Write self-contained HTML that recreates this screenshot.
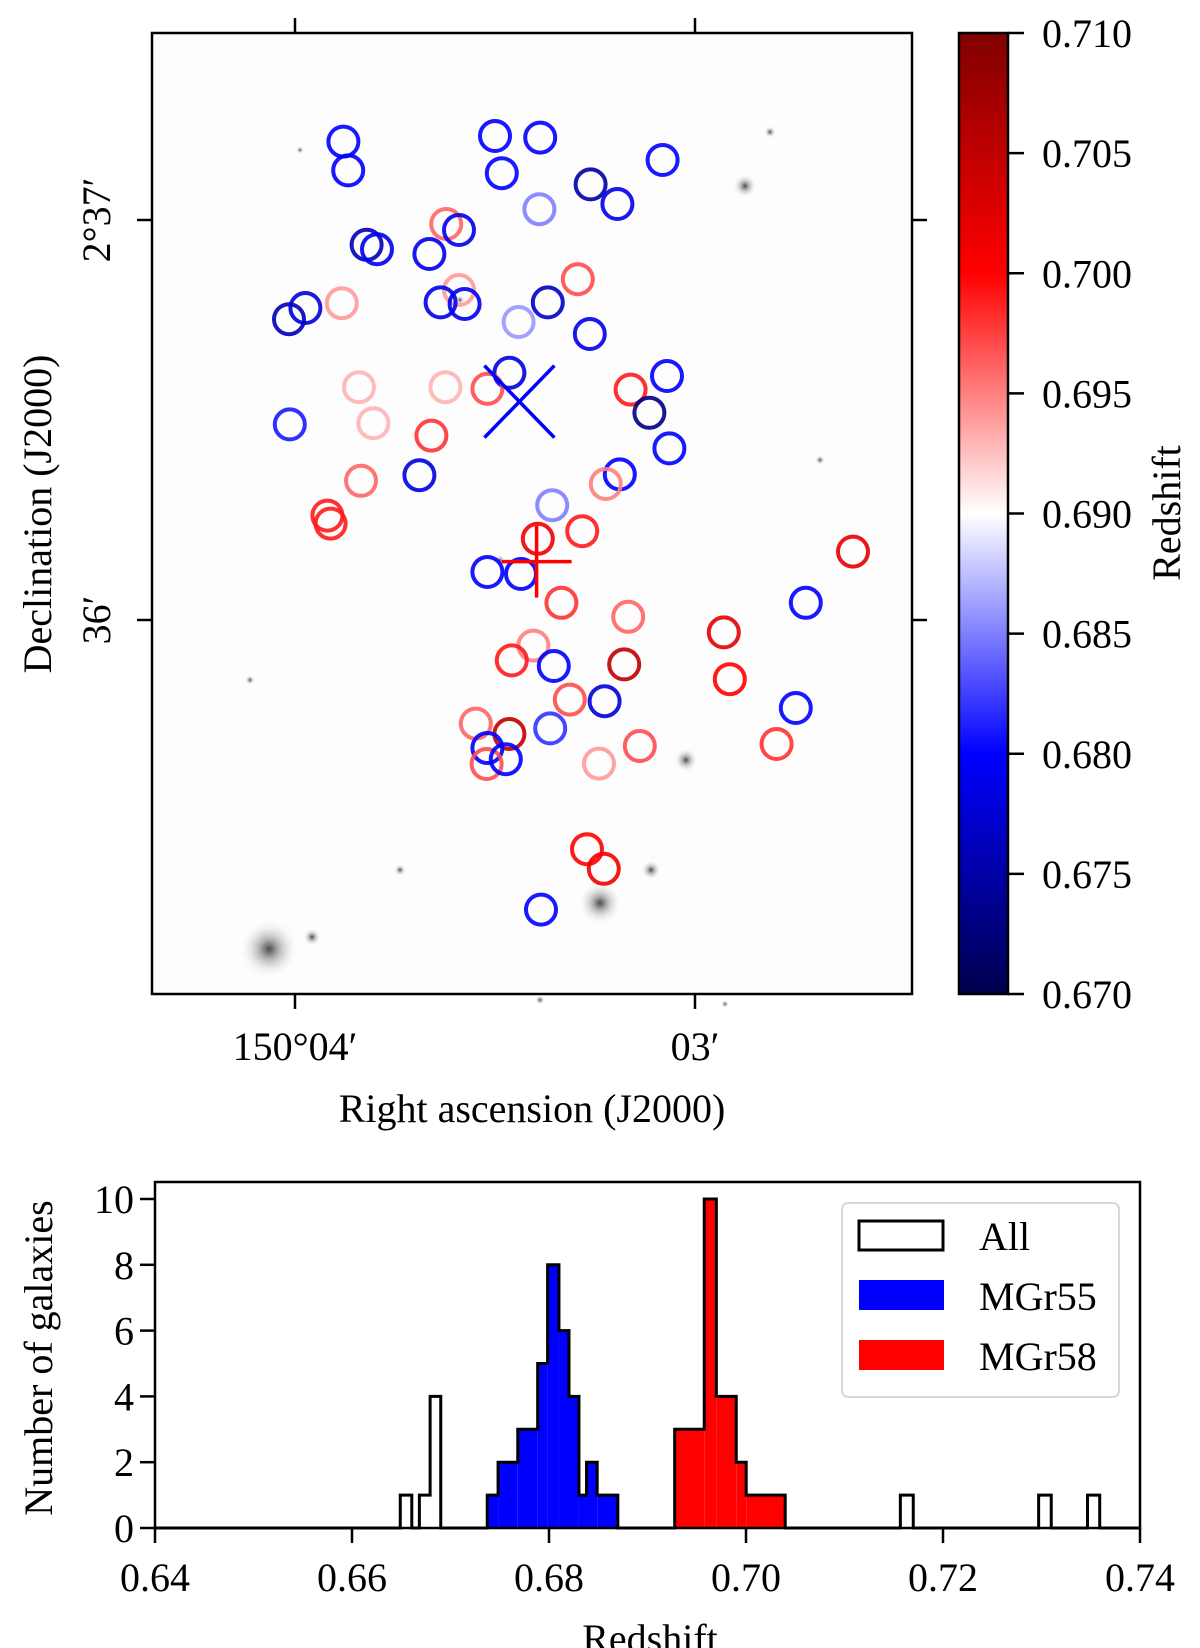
<!DOCTYPE html>
<html><head><meta charset="utf-8">
<style>
html,body{margin:0;padding:0;background:#fff;}
svg{display:block;font-family:"Liberation Serif","DejaVu Serif",serif;}
</style></head>
<body>
<svg id="fig" width="1200" height="1648" viewBox="0 0 1200 1648" xmlns="http://www.w3.org/2000/svg">
<defs>
<linearGradient id="cbar" x1="0" y1="1" x2="0" y2="0">
<stop offset="0" stop-color="rgb(0,0,77)"/>
<stop offset="0.25" stop-color="rgb(0,0,255)"/>
<stop offset="0.5" stop-color="rgb(255,255,255)"/>
<stop offset="0.75" stop-color="rgb(255,0,0)"/>
<stop offset="1" stop-color="rgb(128,0,0)"/>
</linearGradient>
<radialGradient id="glow"><stop offset="0" stop-color="#222"/><stop offset="0.3" stop-color="#999"/><stop offset="1" stop-color="#fff" stop-opacity="0"/></radialGradient>
</defs>
<g id="sky"></g>
<g id="hist"></g>
</svg>
<script>
// ---------- Sky map data (RA arcmin past 150°, Dec arcmin past 2°, redshift) ----------
const galRA = [3.879,3.867,3.500,3.387,3.483,3.081,3.261,3.194,3.389,3.622,3.590,3.821,3.795,3.664,3.293,3.883,3.590,3.636,3.576,3.368,4.015,3.974,3.441,3.263,3.464,3.070,3.840,3.624,3.519,3.161,3.114,4.013,3.804,3.659,3.064,3.689,3.835,3.188,3.223,3.357,3.919,3.911,3.282,3.393,2.605,3.519,3.435,3.334,2.723,3.167,2.928,3.404,3.458,3.353,3.177,2.913,3.313,3.226,2.748,3.548,3.464,3.362,3.519,3.138,2.796,3.521,3.473,3.240,3.270,3.228,3.385];
const galDec = [37.196,37.124,37.210,37.206,37.117,37.150,37.089,37.040,37.027,36.990,36.975,36.938,36.927,36.915,36.852,36.792,36.825,36.794,36.790,36.794,36.752,36.780,36.745,36.715,36.618,36.610,36.582,36.582,36.578,36.576,36.518,36.489,36.492,36.461,36.429,36.362,36.348,36.364,36.340,36.287,36.261,36.241,36.222,36.203,36.171,36.120,36.115,36.043,36.043,36.008,35.969,35.936,35.899,35.885,35.889,35.852,35.801,35.797,35.780,35.741,35.715,35.729,35.680,35.685,35.690,35.640,35.652,35.641,35.427,35.378,35.276];
const galZ = [0.680,0.680,0.680,0.680,0.680,0.680,0.675,0.679,0.685,0.696,0.679,0.676,0.679,0.679,0.697,0.694,0.694,0.679,0.679,0.677,0.676,0.678,0.686,0.679,0.678,0.680,0.693,0.693,0.697,0.699,0.673,0.681,0.693,0.698,0.680,0.678,0.696,0.680,0.695,0.685,0.699,0.699,0.699,0.701,0.702,0.680,0.680,0.698,0.680,0.696,0.702,0.695,0.699,0.680,0.705,0.700,0.697,0.678,0.680,0.696,0.705,0.682,0.680,0.697,0.698,0.697,0.680,0.694,0.700,0.701,0.680];
const centreBlue = [3.439, 36.546];
const centreRed = [3.396, 36.146];
const raTicks = [4, 3];
const raTickLabels = ["150°04′", "03′"];
const decTicks = [37, 36];
const decTickLabels = ["2°37′", "36′"];
const cbTicks = [0.670,0.675,0.680,0.685,0.690,0.695,0.700,0.705,0.710];

// ---------- Histogram data ----------
const blueEdges = [0.67373,0.67483,0.67683,0.67885,0.67986,0.68101,0.68203,0.68304,0.68381,0.68489,0.68699];
const blueCounts = [1,2,3,5,8,6,4,1,2,1];
const redEdges = [0.69276,0.69576,0.69699,0.69901,0.70002,0.70398];
const redCounts = [3,10,4,2,1];
const otherLo = [0.66490,0.66684,0.66793,0.71567,0.72971,0.73467];
const otherHi = [0.66607,0.66793,0.66901,0.71698,0.73099,0.73591];
const otherN = [1,1,4,1,1,1];
const histXTicks = [0.64,0.66,0.68,0.70,0.72,0.74];
const histXTickLabels = ["0.64","0.66","0.68","0.70","0.72","0.74"];
const histYTicks = [0,2,4,6,8,10];

const NS="http://www.w3.org/2000/svg";
function mk(tag, attrs, parent){const e=document.createElementNS(NS,tag);for(const k in attrs)e.setAttribute(k,attrs[k]);parent.appendChild(e);return e;}

function seismic(z){
  let t=(z-0.670)/0.040; t=Math.max(0,Math.min(1,t));
  const st=[[0,0,0,77],[0.25,0,0,255],[0.5,255,255,255],[0.75,255,0,0],[1,128,0,0]];
  for(let i=0;i<4;i++){const a=st[i],b=st[i+1];if(t<=b[0]){const f=(t-a[0])/(b[0]-a[0]);return `rgb(${Math.round(a[1]+f*(b[1]-a[1]))},${Math.round(a[2]+f*(b[2]-a[2]))},${Math.round(a[3]+f*(b[3]-a[3]))})`;}}
  return "rgb(128,0,0)";
}

// ---------- Sky panel ----------
const sky=document.getElementById('sky');
const AX={l:152,r:912,t:33,b:994};
const sx = ra => 295 - (ra-4)*400;
const sy = dec => 620 - (dec-36)*400;

const bg=mk('rect',{x:AX.l,y:AX.t,width:AX.r-AX.l,height:AX.b-AX.t,fill:'#fdfdfd'},sky);


const deco=[[269,949,30],[312,937,9],[745,186,12],[600,903,22],[651,870,10],[686,760,12],[770,132,6],[725,1004,4],[300,150,4],[460,300,5],[250,680,5],[400,870,6],[500,560,5],[820,460,5],[540,1000,5]];
deco.forEach(d=>{const c=mk('circle',{cx:d[0],cy:d[1],r:d[2],fill:'url(#glow)',opacity:0.8},sky);

});

const circ=mk('g',{},sky);


for(let i=0;i<galRA.length;i++){
  const c=mk('circle',{cx:sx(galRA[i]),cy:sy(galDec[i]),r:15,fill:'none',stroke:seismic(galZ[i]),'stroke-width':4,'stroke-opacity':0.9},circ);
  
  
}
{const cx=sx(centreBlue[0]),cy=sy(centreBlue[1]);
const g=mk('g',{stroke:'#0000ff','stroke-width':3.5},sky);


mk('line',{x1:cx-35,y1:cy-36,x2:cx+35,y2:cy+36},g);
mk('line',{x1:cx-35,y1:cy+36,x2:cx+35,y2:cy-36},g);}
{const cx=sx(centreRed[0]),cy=sy(centreRed[1]);
const g=mk('g',{stroke:'#ff0000','stroke-width':3.5},sky);


mk('line',{x1:cx-35,y1:cy,x2:cx+35,y2:cy},g);
mk('line',{x1:cx,y1:cy-36,x2:cx,y2:cy+36},g);}

const frame=mk('rect',{x:AX.l,y:AX.t,width:AX.r-AX.l,height:AX.b-AX.t,fill:'none',stroke:'#000','stroke-width':2.5},sky);


raTicks.forEach((v,i)=>{const x=sx(v);
  mk('line',{x1:x,y1:AX.t,x2:x,y2:AX.t-15,stroke:'#000','stroke-width':2.5},sky);
  mk('line',{x1:x,y1:AX.b,x2:x,y2:AX.b+15,stroke:'#000','stroke-width':2.5},sky);
  const t=mk('text',{x:x,y:1060,'font-size':40,'text-anchor':'middle'},sky);t.textContent=raTickLabels[i];
  
  });
decTicks.forEach((v,i)=>{const y=sy(v);
  mk('line',{x1:AX.l,y1:y,x2:AX.l-15,y2:y,stroke:'#000','stroke-width':2.5},sky);
  mk('line',{x1:AX.r,y1:y,x2:AX.r+15,y2:y,stroke:'#000','stroke-width':2.5},sky);
  const t=mk('text',{x:0,y:0,'font-size':40,'text-anchor':'middle',transform:`translate(110,${y}) rotate(-90)`},sky);t.textContent=decTickLabels[i];
  
  });
{const t=mk('text',{x:532,y:1122,'font-size':40,'text-anchor':'middle'},sky);t.textContent='Right ascension (J2000)';

}
{const t=mk('text',{x:0,y:0,'font-size':40,'text-anchor':'middle',transform:'translate(51,514) rotate(-90)'},sky);t.textContent='Declination (J2000)';

}

const CB={l:959,r:1008,t:33,b:994};
const cy = z => CB.b - (z-0.670)/0.040*(CB.b-CB.t);
{const r=mk('rect',{x:CB.l,y:CB.t,width:CB.r-CB.l,height:CB.b-CB.t,fill:'url(#cbar)',stroke:'#000','stroke-width':2.5},sky);

}
cbTicks.forEach(v=>{const y=cy(v);
  mk('line',{x1:CB.r,y1:y,x2:CB.r+16,y2:y,stroke:'#000','stroke-width':2.5},sky);
  const t=mk('text',{x:1042,y:y+14,'font-size':40},sky);t.textContent=v.toFixed(3);
  
  });
{const t=mk('text',{x:0,y:0,'font-size':40,'text-anchor':'middle',transform:'translate(1180,513) rotate(-90)'},sky);t.textContent='Redshift';

}

// ---------- Histogram ----------
const hist=document.getElementById('hist');
const HA={l:155,r:1140,t:1182,b:1528};
const hx = z => HA.l + (z-0.64)/0.10*(HA.r-HA.l);
const hy = n => HA.b - n*32.9;

function fillBars(edges,counts,color,name){
  for(let i=0;i<counts.length;i++){
    const r=mk('rect',{x:hx(edges[i]),y:hy(counts[i]),width:hx(edges[i+1])-hx(edges[i]),height:HA.b-hy(counts[i]),fill:color},hist);
    
    
  }
}
fillBars(blueEdges,blueCounts,'#0000ff','mgr55-bar');
fillBars(redEdges,redCounts,'#ff0000','mgr58-bar');

const bins=[];
for(let i=0;i<blueCounts.length;i++)bins.push([blueEdges[i],blueEdges[i+1],blueCounts[i]]);
for(let i=0;i<redCounts.length;i++)bins.push([redEdges[i],redEdges[i+1],redCounts[i]]);
for(let i=0;i<otherN.length;i++)bins.push([otherLo[i],otherHi[i],otherN[i]]);
bins.sort((a,b)=>a[0]-b[0]);
let d=`M${hx(0.64)},${hy(0)}`; let prevHi=0.64;
bins.forEach(b=>{
  if(Math.abs(b[0]-prevHi)>1e-6){d+=` L${hx(prevHi)},${hy(0)} L${hx(b[0])},${hy(0)}`;}
  d+=` L${hx(b[0])},${hy(b[2])} L${hx(b[1])},${hy(b[2])}`; prevHi=b[1];
});
d+=` L${hx(prevHi)},${hy(0)} L${hx(0.74)},${hy(0)}`;
{const p=mk('path',{d:d,fill:'none',stroke:'#000','stroke-width':3,'stroke-linejoin':'miter'},hist);

}

{const f=mk('rect',{x:HA.l,y:HA.t,width:HA.r-HA.l,height:HA.b-HA.t,fill:'none',stroke:'#000','stroke-width':2.5},hist);

}
histXTicks.forEach((v,i)=>{const x=hx(v);
  mk('line',{x1:x,y1:HA.b,x2:x,y2:HA.b+15,stroke:'#000','stroke-width':2.5},hist);
  const t=mk('text',{x:x,y:1591,'font-size':40,'text-anchor':'middle'},hist);t.textContent=histXTickLabels[i];
  
  });
histYTicks.forEach(v=>{const y=hy(v);
  mk('line',{x1:HA.l,y1:y,x2:HA.l-15,y2:y,stroke:'#000','stroke-width':2.5},hist);
  const t=mk('text',{x:134,y:y+14,'font-size':40,'text-anchor':'end'},hist);t.textContent=String(v);
  
  });
{const t=mk('text',{x:650,y:1652,'font-size':40,'text-anchor':'middle'},hist);t.textContent='Redshift';

}
{const t=mk('text',{x:0,y:0,'font-size':40,'text-anchor':'middle',transform:'translate(52,1358) rotate(-90)'},hist);t.textContent='Number of galaxies';

}

const lg=mk('g',{},hist);


mk('rect',{x:842,y:1203,width:277,height:194,rx:6,fill:'#fff','fill-opacity':0.8,stroke:'#d8d8d8','stroke-width':2},lg);
mk('rect',{x:859,y:1221,width:84,height:29,fill:'none',stroke:'#000','stroke-width':3},lg);
mk('rect',{x:859,y:1280,width:85,height:30,fill:'#0000ff'},lg);
mk('rect',{x:859,y:1340,width:85,height:30,fill:'#ff0000'},lg);
[['All',1250,'legend-entry-all'],['MGr55',1310,'legend-entry-mgr55'],['MGr58',1370,'legend-entry-mgr58']].forEach(e=>{
  const t=mk('text',{x:979,y:e[1],'font-size':40},lg);t.textContent=e[0];
  
  });
</script>
</body></html>
